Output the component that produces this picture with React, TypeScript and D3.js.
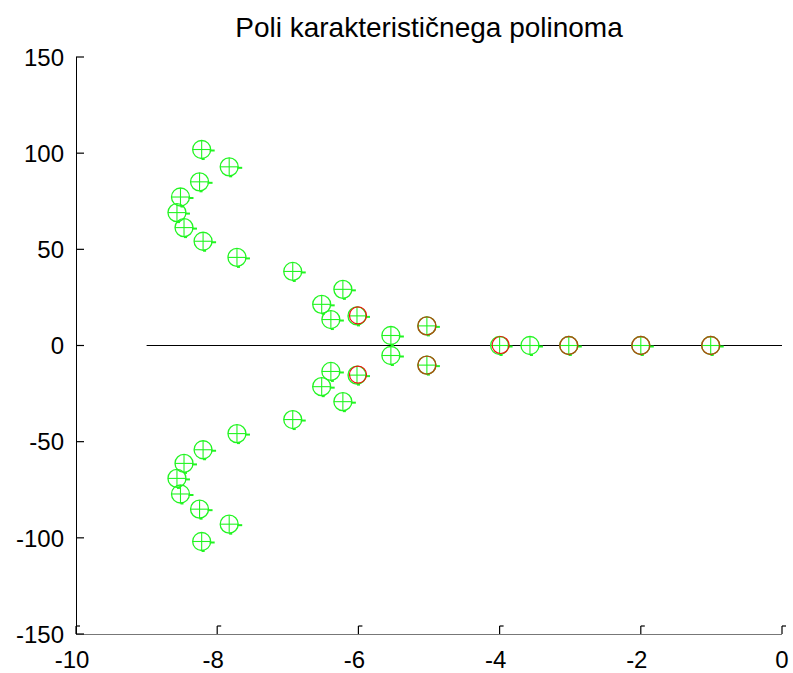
import React from "react";
import * as d3 from "d3";

const title = "Poli karakterističnega polinoma";
const xTicks = [-10, -8, -6, -4, -2, 0];
const yTicks = [-150, -100, -50, 0, 50, 100, 150];

// complex roots (upper half, conjugates mirrored)
const complexRe = [-8.22, -7.83, -8.25, -8.52, -8.57, -8.47, -8.2, -7.72, -6.93, -6.22, -6.52, -6.39, -6.02, -5.54, -5.03];
const complexIm = [101.9, 92.9, 85.1, 77.2, 69.1, 61.3, 54.2, 45.8, 38.5, 29.2, 21.4, 13.5, 15.4, 5.2, 10.2];
const complexKind = ["g", "g", "g", "g", "g", "g", "g", "g", "g", "g", "g", "g", "r", "g", "b"];

const realRoots = [-4.0, -3.57, -3.02, -2.0, -1.01];
const realKind = ["r", "g", "b", "b", "b"];

const zeroLineFrom = -9;

const W = 793, H = 673;
const L = 76, R = 782, T = 57, B = 634;

export default function App() {
  const x = d3.scaleLinear().domain([-10, 0]).range([L, R]);
  const y = d3.scaleLinear().domain([-150, 150]).range([B, T]);

  const pts: { re: number; im: number; k: string }[] = [];
  complexRe.forEach((re, i) => {
    pts.push({ re, im: complexIm[i], k: complexKind[i] });
    pts.push({ re, im: -complexIm[i], k: complexKind[i] });
  });
  realRoots.forEach((re, i) => pts.push({ re, im: 0, k: realKind[i] }));

  const green = "#22f522";
  const r = 9;

  return (
    <svg width={W} height={H} style={{ position: "absolute", left: 0, top: 0, background: "#fff" }} fontFamily="Liberation Sans, Arial, sans-serif">
      <text x={(L + R) / 2} y={37} fontSize={28} textAnchor="middle">{title}</text>
      {/* zero line */}
      <line x1={x(zeroLineFrom)} x2={x(0)} y1={y(0)} y2={y(0)} stroke="#000" strokeWidth={1} />
      {/* axes */}
      <line x1={L + 0.5} x2={L + 0.5} y1={T} y2={B} stroke="#000" strokeWidth={1} />
      <line x1={L} x2={R} y1={B + 0.5} y2={B + 0.5} stroke="#777" strokeWidth={1.2} />
      {yTicks.map((t) => (
        <g key={"y" + t}>
          <line x1={L} x2={L + 8} y1={y(t)} y2={y(t)} stroke="#000" strokeWidth={1.2} />
          <text x={64} y={y(t) + 8.7} fontSize={24} textAnchor="end">{t}</text>
        </g>
      ))}
      {xTicks.map((t) => (
        <g key={"x" + t}>
          <line x1={x(t)} x2={x(t)} y1={B} y2={B - 8} stroke="#000" strokeWidth={1.2} />
          <line x1={x(t)} x2={x(t) + 4} y1={B - 8} y2={B - 8} stroke="#000" strokeWidth={1.2} />
          <text x={x(t) + (t < 0 ? -4 : 0)} y={668} fontSize={24} textAnchor="middle">{t}</text>
        </g>
      ))}
      {/* markers */}
      {pts.map((p, i) => {
        const cx = x(p.re), cy = y(p.im);
        return (
          <g key={i}>
            <line x1={cx + 8} x2={cx + 13} y1={cy + 1} y2={cy + 1} stroke={green} strokeWidth={2} />
            <rect x={cx} y={cy + 8.5} width={3} height={2} fill={green} />
            <line x1={cx - r} x2={cx + r} y1={cy} y2={cy} stroke={green} strokeWidth={1.1} />
            <line x1={cx} x2={cx} y1={cy - r} y2={cy + r} stroke={green} strokeWidth={1.1} />
            <circle cx={cx} cy={cy} r={r} fill="none" stroke={green} strokeWidth={1.3} />
            {p.k === "r" && <circle cx={cx + 1} cy={cy - 0.5} r={r - 0.5} fill="none" stroke="#f01010" strokeWidth={1.2} />}
            {p.k === "b" && <circle cx={cx} cy={cy} r={r} fill="none" stroke="#b04a12" strokeWidth={1.4} />}
          </g>
        );
      })}
    </svg>
  );
}
